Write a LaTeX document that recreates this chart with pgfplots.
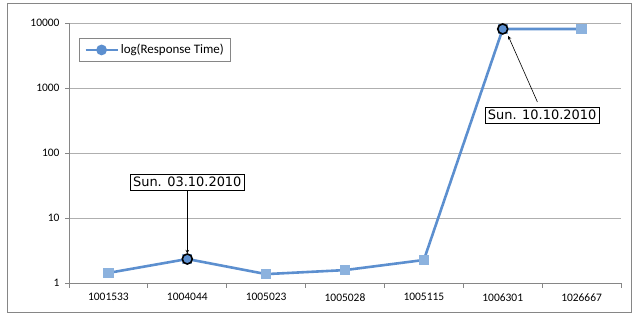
\documentclass[border=0pt]{standalone}
\usepackage{fontspec}
\setmainfont{Carlito}
\newfontfamily\annfont{DejaVu Sans}
\usepackage{pgfplots}
\pgfplotsset{compat=1.18}
\definecolor{lineblue}{RGB}{92,143,207}
\definecolor{markblue}{RGB}{140,178,222}
\definecolor{gridgray}{RGB}{175,175,175}
\definecolor{axgray}{RGB}{134,134,134}
\begin{document}
\begin{tikzpicture}[x=1bp,y=1bp]
\useasboundingbox (0,0) rectangle (639,320);
\draw[axgray, line width=0.8bp] (7,8) rectangle (631,317);
\begin{axis}[
  at={(69bp,37bp)}, anchor=south west,
  scale only axis, width=552bp, height=260bp,
  ymode=log, ymin=1, ymax=10000,
  xmin=-0.5, xmax=6.5,
  xtick={0,...,6},
  xticklabels={1001533,1004044,1005023,1005028,1005115,1006301,1026667},
  minor xtick={-0.5,0.5,...,6.5},
  ytick={1,10,100,1000,10000},
  yticklabels={1,10,100,1000,10000},
  yminorticks=false,
  axis x line*=bottom, axis y line*=left,
  axis line style={axgray, line width=0.8bp, -},
  tick align=outside,
  major tick length=4bp, minor tick length=5bp,
  x tick style={draw=none},
  minor x tick style={draw=axgray, line width=0.8bp},
  y tick style={axgray, line width=0.8bp},
  ymajorgrids, major grid style={gridgray, line width=0.8bp},
  ticklabel style={font=\fontsize{11.5}{13}\selectfont, text=black},
  yticklabel style={xshift=-2bp},
  xticklabel style={yshift=-3bp},
  legend style={at={(0.018,0.942)}, anchor=north west, draw=axgray, line width=0.8bp,
    font=\fontsize{13}{15}\selectfont, inner xsep=5bp, inner ysep=4bp, minimum height=0bp},
  legend cell align=left,
  legend image code/.code={
    \draw[lineblue, line width=2.5bp] (0bp,0bp) -- (32bp,0bp);
    \fill[lineblue] (16bp,0bp) circle (4bp);
  },
]
\addplot[lineblue, line width=2.6bp, mark=square*, mark size=4.6bp,
  mark options={fill=markblue, draw=markblue, line width=0bp}]
  coordinates {(0,1.43) (1,2.34) (2,1.37) (3,1.58) (4,2.26) (5,8090) (6,8090)};
\addlegendentry{log(Response Time)}
\addplot[only marks, mark=*, mark size=5bp,
  mark options={fill=lineblue, draw=black, line width=1.6bp}, forget plot]
  coordinates {(1,2.34) (5,8090)};
\node[draw=black, fill=white, line width=0.6bp, font=\annfont\fontsize{13}{15}\selectfont,
  inner xsep=3bp, inner ysep=3bp] (a1) at (axis cs:1,35.8) {Sun. 03.10.2010};
\draw[-stealth, line width=0.6bp] (a1.south) -- (axis cs:1,2.85);
\node[draw=black, fill=white, line width=0.6bp, font=\annfont\fontsize{13}{15}\selectfont,
  inner xsep=3bp, inner ysep=3bp] (a2) at (axis cs:5.5,384) {Sun. 10.10.2010};
\draw[-stealth, line width=0.6bp] (axis cs:5.44,609) -- (axis cs:5.07,6310);
\end{axis}
\end{tikzpicture}
\end{document}
